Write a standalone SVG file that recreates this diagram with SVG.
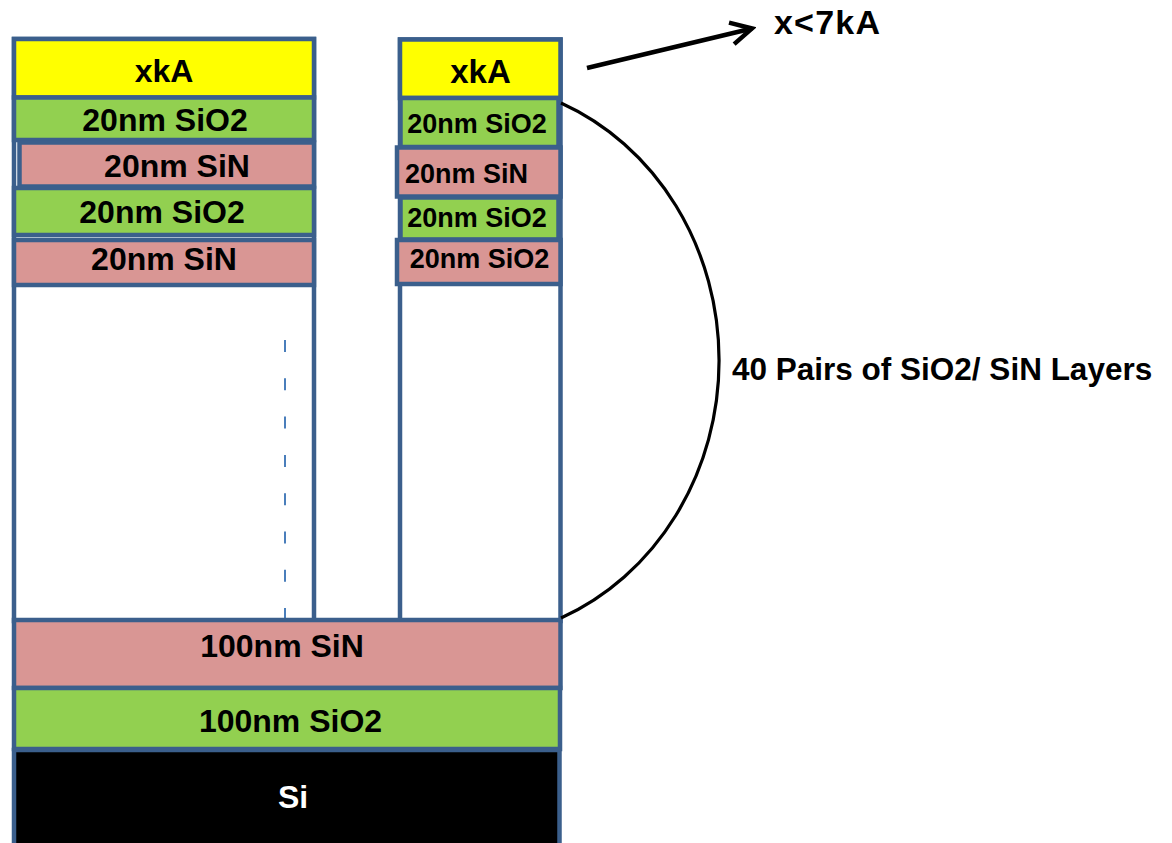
<svg xmlns="http://www.w3.org/2000/svg" width="1172" height="843" viewBox="0 0 1172 843">
<style>
.b{stroke:#3B5F8C;stroke-width:4.5}
.w{fill:#FFFFFF}
.y{fill:#FFFF00}
.g{fill:#92D050}
.p{fill:#D99694}
.k{fill:#000000}
text{font-family:"Liberation Sans",Arial,sans-serif;font-weight:bold;fill:#000}
.L{font-size:32px;text-anchor:middle}
.R{font-size:27px;text-anchor:middle}
</style>
<defs>
<marker id="ah" markerUnits="userSpaceOnUse" viewBox="-26 -14 30 28" markerWidth="30" markerHeight="28" refX="0" refY="0" orient="auto">
<path d="M-21,-11 L0,0 L-21,11" fill="none" stroke="#000" stroke-width="4.5" stroke-linejoin="miter"/>
</marker>
</defs>
<rect width="1172" height="843" fill="#fff"/>
<g id="left-column">
<rect class="b w" x="14" y="39" width="300" height="582"/>
<rect class="b y" x="14" y="39" width="300" height="58.5"/>
<rect class="b g" x="14" y="97.5" width="300" height="42.5"/>
<rect class="b p" x="19.5" y="142.5" width="294.5" height="44"/>
<rect class="b g" x="14" y="188" width="300" height="47"/>
<rect class="b p" x="14" y="240" width="300" height="45"/>
<text class="L" x="164" y="82">xkA</text>
<text class="L" x="165" y="131">20nm SiO2</text>
<text class="L" x="177" y="177">20nm SiN</text>
<text class="L" x="162" y="223">20nm SiO2</text>
<text class="L" x="164" y="270">20nm SiN</text>
<line x1="285" y1="340" x2="285" y2="620" stroke="#4A7EBB" stroke-width="2" stroke-dasharray="12 26.3"/>
</g>
<g id="right-column">
<rect class="b w" x="400" y="39.5" width="160.5" height="581.5"/>
<rect class="b y" x="400" y="39.5" width="160.5" height="58.5"/>
<rect class="b g" x="400.5" y="98" width="158" height="49"/>
<rect class="b p" x="397" y="147.5" width="163.5" height="49"/>
<rect class="b g" x="400.5" y="197.5" width="158" height="42"/>
<rect class="b p" x="397" y="240" width="163.5" height="44"/>
<text x="480.5" y="83" style="font-size:33px;text-anchor:middle">xkA</text>
<text class="R" x="477" y="133">20nm SiO2</text>
<text class="R" x="466.5" y="183">20nm SiN</text>
<text class="R" x="477" y="227">20nm SiO2</text>
<text class="R" x="479.5" y="268">20nm SiO2</text>
</g>
<g id="sin-100">
<rect class="b p" x="14" y="620" width="546.5" height="68"/>
<text class="L" x="282" y="657">100nm SiN</text>
</g>
<g id="sio2-100">
<rect class="b g" x="14" y="688" width="546" height="61"/>
<text class="L" x="290.5" y="732">100nm SiO2</text>
</g>
<g id="si">
<rect class="b k" x="14" y="750" width="545.5" height="100"/>
<text class="L" x="293" y="808" style="fill:#fff">Si</text>
</g>
<g id="connectors">
<path d="M561,103 A257,279 0 0,1 561,618" fill="none" stroke="#000" stroke-width="3.2"/>
<line x1="587" y1="68" x2="752" y2="28.5" stroke="#000" stroke-width="4.5" marker-end="url(#ah)"/>
</g>
<g id="labels">
<text x="774" y="34" style="font-size:34px;letter-spacing:1.2px">x&lt;7kA</text>
<text x="732" y="380" style="font-size:31.5px">40 Pairs of SiO2/ SiN Layers</text>
</g>
</svg>
